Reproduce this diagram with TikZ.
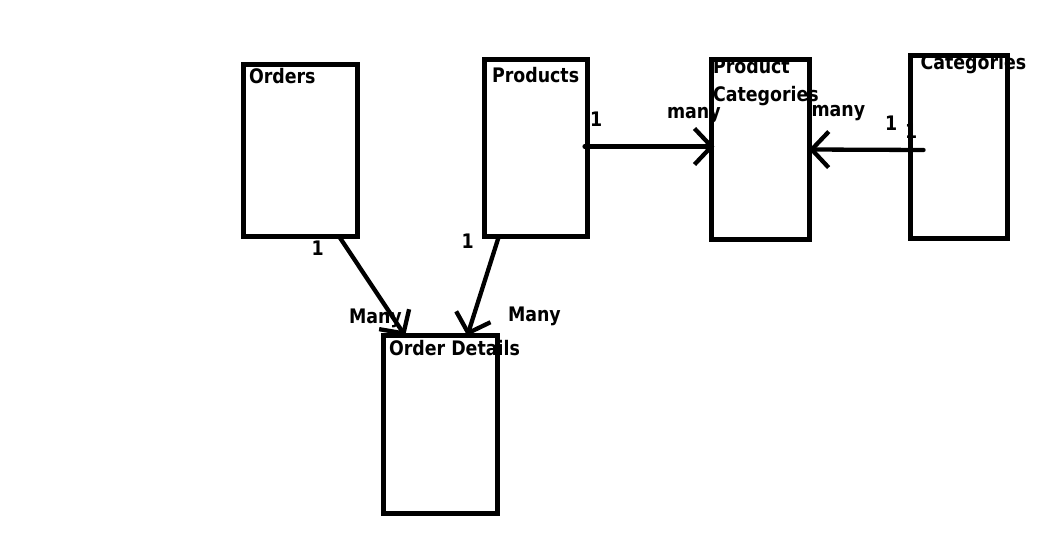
\documentclass[tikz,border=0pt]{standalone}
\usepackage{fontspec}
\newfontfamily\lblfont{DejaVu Sans}[FakeStretch=0.87]
\usetikzlibrary{arrows.meta,calc}
\tikzset{
  ent/.style={draw=black, line width=4.8pt, rectangle, inner sep=0pt, outer sep=0pt},
  lbl/.style={anchor=base west, inner sep=0pt, outer sep=0pt, font=\lblfont\bfseries\fontsize{20pt}{22pt}\selectfont, text=black},
  rel/.style={draw=black, line width=4.3pt, line cap=round, -{Straight Barb[length=17pt,width=36pt,line width=4.3pt]}}
}
\begin{document}
\begin{tikzpicture}[x=1pt,y=-1pt]
\fill[white] (0,0) rectangle (1048,537);
\useasboundingbox (0,0) rectangle (1048,537);
% texts
\node[lbl] (tOrders) at (249,84) {Orders};
\node[lbl] (tProducts) at (492,82.5) {Products};
\node[lbl] (tPC1) at (713,74) {Product};
\node[lbl] (tPC2) at (713,102) {Categories};
\node[lbl] (tCat) at (920.5,70) {Categories};
\node[lbl] (tOD) at (389,355) {Order Details};
\node[lbl] (m1) at (590,127) {1};
\node[lbl] (m2) at (667,118.3) {many};
\node[lbl] (m3) at (811.5,116.7) {many};
\node[lbl] (m4) at (885,131) {1};
\node[lbl] (m5) at (905,139) {1};
\node[lbl] (m6) at (311.5,255) {1};
\node[lbl] (m7) at (461.5,248.3) {1};
\node[lbl] (m8) at (349,323.3) {Many};
\node[lbl] (m9) at (508,321.7) {Many};
% entities
\node[ent, minimum width=114pt, minimum height=172pt] (orders) at (300.5,150.7) {};
\node[ent, minimum width=102.7pt, minimum height=177pt] (products) at (536.2,148.3) {};
\node[ent, minimum width=98.3pt, minimum height=180.5pt] (pcat) at (760.6,149.4) {};
\node[ent, minimum width=96.7pt, minimum height=183pt] (cats) at (959.2,147.3) {};
\node[ent, minimum width=114pt, minimum height=177.4pt] (od) at (440.5,424.5) {};
% relations
\coordinate (cCats) at (923.5,150);
\draw[rel] ([xshift=-3pt]products.east |- 0,146.5) -- ([xshift=3pt]pcat.west |- 0,146.5);
\draw[rel] (cCats) -- ([xshift=-1pt]pcat.east |- 0,149.5);
\draw[rel] ($(orders.south west)!0.84!(orders.south east)$) -- ($(od.north west)!0.19!(od.north east)$);
\draw[rel] ($(products.south west)!0.135!(products.south east)$) -- ($(od.north west)!0.735!(od.north east)$);
\end{tikzpicture}
\end{document}
